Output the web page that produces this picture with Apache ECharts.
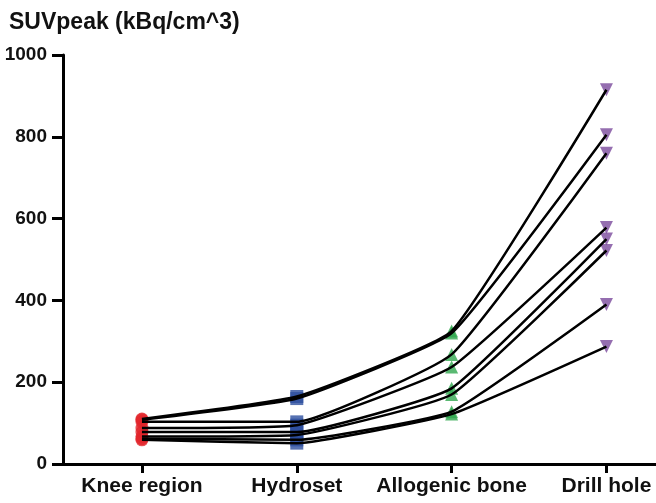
<!DOCTYPE html>
<html>
<head>
<meta charset="utf-8">
<script src="https://cdn.jsdelivr.net/npm/echarts@6/dist/echarts.min.js"></script>
<style>html,body{margin:0;padding:0;background:#fff}#c{width:656px;height:503px}</style>
</head>
<body>
<div id="c"></div>
<script>
const categories = ['Knee region', 'Hydroset', 'Allogenic bone', 'Drill hole'];
const yTicks = [0, 200, 400, 600, 800, 1000];
// one value per subject (8 subjects), per category
const kneeRegion    = [110, 108, 103, 88, 78, 67, 62, 59];
const hydroset      = [165, 160, 103, 95, 78, 71, 59, 51];
const allogenicBone = [325, 320, 268, 237, 185, 170, 128, 122];
const drillHole     = [915, 805, 760, 578, 550, 522, 390, 287];
const groups = [kneeRegion, hydroset, allogenicBone, drillHole];
const markerColors = ['#e2262c', '#2d4f9f', '#31a84f', '#7b4a9c'];
const markerSymbols = ['circle', 'rect', 'triangle', 'triangle'];
const markerRotate = [0, 0, 0, 180];

const FONT = '"Liberation Sans", Arial, sans-serif';
const series = [];
for (let s = 0; s < kneeRegion.length; s++) {
  series.push({
    type: 'line',
    data: groups.map((g, i) => [i, g[s]]),
    symbol: 'none',
    smooth: 0.12,
    lineStyle: { color: '#000', width: 2.5 },
    z: 4,
    silent: true
  });
}
groups.forEach((g, i) => {
  series.push({
    type: 'scatter',
    data: g.map(v => [i, v]),
    symbol: markerSymbols[i],
    symbolRotate: markerRotate[i],
    symbolSize: 13,
    itemStyle: { color: markerColors[i] },
    z: 2,
    silent: true
  });
});

const chart = echarts.init(document.getElementById('c'), null, { renderer: 'canvas' });
chart.setOption({
  animation: false,
  title: {
    text: 'SUVpeak (kBq/cm^3)',
    left: 4, top: 6,
    textStyle: { fontFamily: FONT, fontWeight: 'bold', fontSize: 23, color: '#111' }
  },
  grid: { left: 63, right: 0, top: 55, bottom: 39, containLabel: false },
  xAxis: {
    type: 'value',
    min: -0.51, max: 3.32,
    splitLine: { show: false },
    axisLine: { show: true, onZero: false, lineStyle: { color: '#000', width: 3 } },
    axisTick: { show: true, length: 9, lineStyle: { color: '#000', width: 3 }, customValues: categories.map((c, i) => i) },
    axisLabel: {
      customValues: categories.map((c, i) => i),
      formatter: v => categories[Math.round(v)] || '',
      fontFamily: FONT, fontWeight: 'bold', fontSize: 21, color: '#111', margin: 12
    }
  },
  yAxis: {
    type: 'value',
    min: 0, max: 1000, interval: 200,
    splitLine: { show: false },
    axisLine: { show: true, onZero: false, lineStyle: { color: '#000', width: 3 } },
    axisTick: { show: true, inside: false, length: 11, lineStyle: { color: '#000', width: 3 } },
    axisLabel: {
      formatter: v => (yTicks.indexOf(v) >= 0 ? String(v) : ''),
      fontFamily: FONT, fontWeight: 'bold', fontSize: 19, color: '#111', margin: 16
    }
  },
  series: series
});
</script>
</body>
</html>
